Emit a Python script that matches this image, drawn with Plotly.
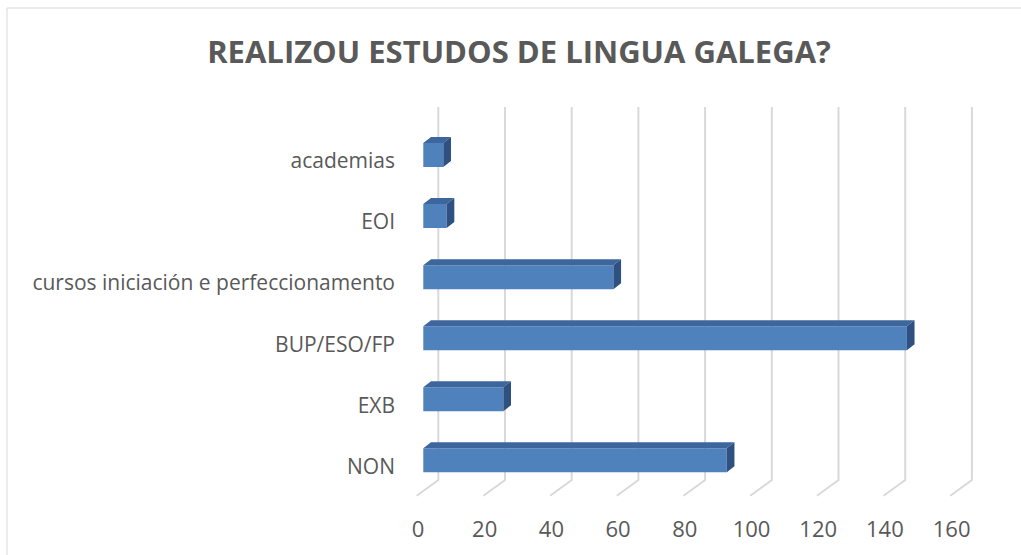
import plotly.graph_objects as go

# Data (bottom to top, as drawn)
categories = ['NON', 'EXB', 'BUP/ESO/FP', 'cursos iniciación e perfeccionamento', 'EOI', 'academias']
values = [91, 24, 145, 57, 7, 6]
tick_values = [0, 20, 40, 60, 80, 100, 120, 140, 160]

W, H = 1021, 555
text_color = '#595959'
grid_color = '#D9D9D9'
front_color = '#4F81BD'
top_color = '#3D679C'
side_color = '#2E5181'

# 3D look (in data units)
bar_w = 0.393
half = bar_w / 2
dx, dy = 2.3, 0.098
grid_shift = 4.5      # back wall offset
floor_shift = -6.48   # diagonal floor line
grid_top, grid_bottom, grid_floor = 5.786, -0.323, -0.58

pos = list(range(len(categories)))

# top and side faces of the bars
top_x, top_y, side_x, side_y = [], [], [], []
for k, v in zip(pos, values):
    top_x += [0, v, v + dx, dx, 0, None]
    top_y += [k + half, k + half, k + half + dy, k + half + dy, k + half, None]
    side_x += [v, v, v + dx, v + dx, v, None]
    side_y += [k - half, k + half, k + half + dy, k - half + dy, k - half, None]

# back wall gridlines with floor diagonals, kept below the bars
grid_shapes = []
for t in tick_values:
    xb = t + grid_shift
    grid_shapes.append(dict(
        type='path', xref='x', yref='y', layer='below',
        path=f'M {xb},{grid_top} L {xb},{grid_bottom} L {xb + floor_shift},{grid_floor}',
        line=dict(color=grid_color, width=2)))

fig = go.Figure()

fig.add_trace(go.Bar(x=values, y=pos, orientation='h', width=bar_w,
                     marker=dict(color=front_color, line=dict(width=0)),
                     showlegend=False))

fig.add_trace(go.Scatter(x=top_x, y=top_y, mode='lines', fill='toself',
                         fillcolor=top_color, line=dict(width=0, color=top_color),
                         hoverinfo='skip', showlegend=False))
fig.add_trace(go.Scatter(x=side_x, y=side_y, mode='lines', fill='toself',
                         fillcolor=side_color, line=dict(width=0, color=side_color),
                         hoverinfo='skip', showlegend=False))

# invisible traces that carry the label axes
fig.add_trace(go.Scatter(x=[0, 160], y=[None, None], xaxis='x2', yaxis='y',
                         mode='markers', hoverinfo='skip', showlegend=False))
fig.add_trace(go.Scatter(x=[None] * len(pos), y=pos, xaxis='x', yaxis='y2',
                         mode='markers', hoverinfo='skip', showlegend=False))

x_dom = [413.3 / W, 976.9 / W]
y_dom = [(H - 500.0) / H, (H - 100.05) / H]
shift = 6 / H

fig.update_layout(
    width=W, height=H, autosize=False,
    margin=dict(l=0, r=0, t=0, b=0, autoexpand=False),
    paper_bgcolor='white', plot_bgcolor='rgba(0,0,0,0)',
    title=dict(text='<b>REALIZOU ESTUDOS DE LINGUA GALEGA?</b>',
               x=519 / W, xanchor='center', y=(H - 52) / H, yanchor='middle',
               font=dict(family='Open Sans', size=31, color=text_color)),
    font=dict(family='Open Sans', color=text_color),
    xaxis=dict(domain=x_dom, range=[-3, 166], showgrid=False, zeroline=False,
               showticklabels=False, showline=False, fixedrange=True, automargin=False),
    yaxis=dict(domain=y_dom, range=[-0.65, 5.9], showgrid=False, zeroline=False,
               showticklabels=False, showline=False, fixedrange=True, automargin=False),
    xaxis2=dict(domain=[418 / W, (418 + 160 * 3.335) / W], range=[0, 160],
                anchor='free', position=(H - 514) / H, automargin=False,
                tickvals=tick_values, showgrid=False, zeroline=False, showline=False,
                ticks='', tickfont=dict(size=22, color=text_color), fixedrange=True),
    yaxis2=dict(domain=[y_dom[0] - shift, y_dom[1] - shift], range=[-0.65, 5.9],
                anchor='free', position=395 / W, automargin=False,
                tickvals=pos, ticktext=categories, showgrid=False, zeroline=False,
                showline=False, ticks='', tickfont=dict(size=21, color=text_color),
                fixedrange=True),
    shapes=grid_shapes + [
        dict(type='line', xref='paper', yref='paper', x0=7 / W, x1=1, y0=(H - 8) / H, y1=(H - 8) / H,
             line=dict(color=grid_color, width=1)),
        dict(type='line', xref='paper', yref='paper', x0=7 / W, x1=7 / W, y0=0, y1=(H - 8) / H,
             line=dict(color=grid_color, width=1)),
    ],
)

fig.write_html('out.html', config={'displayModeBar': False},
               post_script="document.body.style.margin='0';")
